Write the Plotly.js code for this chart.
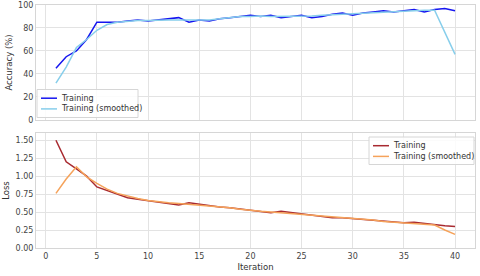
<!DOCTYPE html>
<html><head><meta charset="utf-8">
<script src="https://cdn.plot.ly/plotly-3.0.1.min.js"></script>
<style>html,body{margin:0;padding:0;background:#fff}#c{width:480px;height:276px}</style>
</head><body><div id="c"></div>
<script>
const iterations = [1,2,3,4,5,6,7,8,9,10,11,12,13,14,15,16,17,18,19,20,21,22,23,24,25,26,27,28,29,30,31,32,33,34,35,36,37,38,39,40];
const accTrain = [45,55,60,70,85,85,85,86,87,86,87,88,89,85,87,86,88,89,90,91,90,91,89,90,91,89,90,92,93,91,93,94,95,94,95,96,94,96,97,95];
const accSmooth = [32,46,63,70,78,83,85,86,86.5,86.5,87,87,87,87,87,87,88,89,90,90,90.5,90,90,90,90,90.5,91,91.5,92,92.5,93,93.5,94,94.5,95,95,95.5,95.5,76,57];
const lossTrain = [1.50,1.20,1.10,1.00,0.85,0.80,0.75,0.70,0.68,0.66,0.65,0.62,0.60,0.63,0.61,0.58,0.57,0.56,0.54,0.52,0.50,0.49,0.51,0.49,0.47,0.45,0.44,0.42,0.42,0.41,0.40,0.39,0.37,0.36,0.35,0.36,0.34,0.32,0.31,0.30];
const lossSmooth = [0.76,0.96,1.13,0.99,0.90,0.82,0.76,0.72,0.69,0.66,0.64,0.63,0.62,0.61,0.60,0.59,0.57,0.56,0.54,0.52,0.51,0.50,0.49,0.48,0.47,0.45,0.44,0.43,0.42,0.41,0.40,0.39,0.37,0.36,0.36,0.35,0.34,0.32,0.25,0.19];
const accTicks = [0,20,40,60,80,100];
const lossTicks = [0,0.25,0.5,0.75,1.0,1.25,1.5];
const xTicks = [0,5,10,15,20,25,30,35,40];
const seriesNames = ["Training", "Training (smoothed)"];

const F = "DejaVu Sans, sans-serif";
const grid = "#e3e3e3";
const colors = ["#1515f0", "#87ceeb", "#a82a30", "#f5a25a"];
const tr = [
  {x: iterations, y: accTrain, name: seriesNames[0], mode: "lines", line: {color: colors[0], width: 1.5}, xaxis: "x", yaxis: "y"},
  {x: iterations, y: accSmooth, name: seriesNames[1], mode: "lines", line: {color: colors[1], width: 1.5}, xaxis: "x", yaxis: "y"},
  {x: iterations, y: lossTrain, name: seriesNames[0], mode: "lines", line: {color: colors[2], width: 1.5}, xaxis: "x2", yaxis: "y2"},
  {x: iterations, y: lossSmooth, name: seriesNames[1], mode: "lines", line: {color: colors[3], width: 1.5}, xaxis: "x2", yaxis: "y2"}
];
// legend drawn as shapes/annotations in paper coords (pixel helpers)
const L = 36, R = 5, T = 5, B = 28, W = 480, H = 276;
const px = v => (v - L) / (W - L - R);
const py = v => (H - B - v) / (H - T - B);
const shapes = [], annotations = [];
function legendBox(x0, y0, x1, y1, items) {
  shapes.push({type: "rect", xref: "paper", yref: "paper", x0: px(x0), x1: px(x1), y0: py(y1), y1: py(y0), fillcolor: "rgba(255,255,255,0.85)", line: {color: "#d6d6d6", width: 1}, layer: "above"});
  items.forEach((it, i) => {
    const yy = y0 + 8.7 + i * 10.7;
    shapes.push({type: "line", xref: "paper", yref: "paper", x0: px(x0 + 4), x1: px(x0 + 20), y0: py(yy), y1: py(yy), line: {color: it.color, width: 1.5}, layer: "above"});
    annotations.push({xref: "paper", yref: "paper", x: px(x0 + 22), y: py(yy), xanchor: "left", yanchor: "middle", showarrow: false, text: it.name, font: {family: F, size: 8, color: "#333"}});
  });
}
legendBox(37, 89.5, 138, 117.5, [{name: seriesNames[0], color: colors[0]}, {name: seriesNames[1], color: colors[1]}]);
legendBox(369, 137, 474, 164.5, [{name: seriesNames[0], color: colors[2]}, {name: seriesNames[1], color: colors[3]}]);

const axBase = {showgrid: true, gridcolor: grid, gridwidth: 1, zeroline: false, showline: true, linecolor: "#d6d6d6", linewidth: 1, mirror: true, ticks: "", tickfont: {family: F, size: 8, color: "#444"}};
const layout = {
  width: W, height: H,
  margin: {l: L, r: R, t: T, b: B},
  paper_bgcolor: "#fff", plot_bgcolor: "#fff",
  font: {family: F, size: 8, color: "#444"},
  showlegend: false,
  shapes: shapes, annotations: annotations,
  xaxis: Object.assign({}, axBase, {domain: [0,1], range: [-0.95, 41.95], tickvals: xTicks, showticklabels: false, anchor: "y"}),
  yaxis: Object.assign({}, axBase, {domain: [0.527, 1], range: [0, 100], tickvals: accTicks, title: {text: "Accuracy (%)", font: {family: F, size: 8.5, color: "#333"}, standoff: 4}, anchor: "x"}),
  xaxis2: Object.assign({}, axBase, {domain: [0,1], range: [-0.95, 41.95], tickvals: xTicks, anchor: "y2", title: {text: "Iteration", font: {family: F, size: 8.5, color: "#333"}, standoff: 4}}),
  yaxis2: Object.assign({}, axBase, {domain: [0, 0.473], range: [0, 1.6], tickvals: lossTicks, tickformat: ".2f", anchor: "x2", title: {text: "Loss", font: {family: F, size: 8.5, color: "#333"}, standoff: 4}})
};
Plotly.newPlot("c", tr, layout, {displayModeBar: false, staticPlot: true});
</script></body></html>
